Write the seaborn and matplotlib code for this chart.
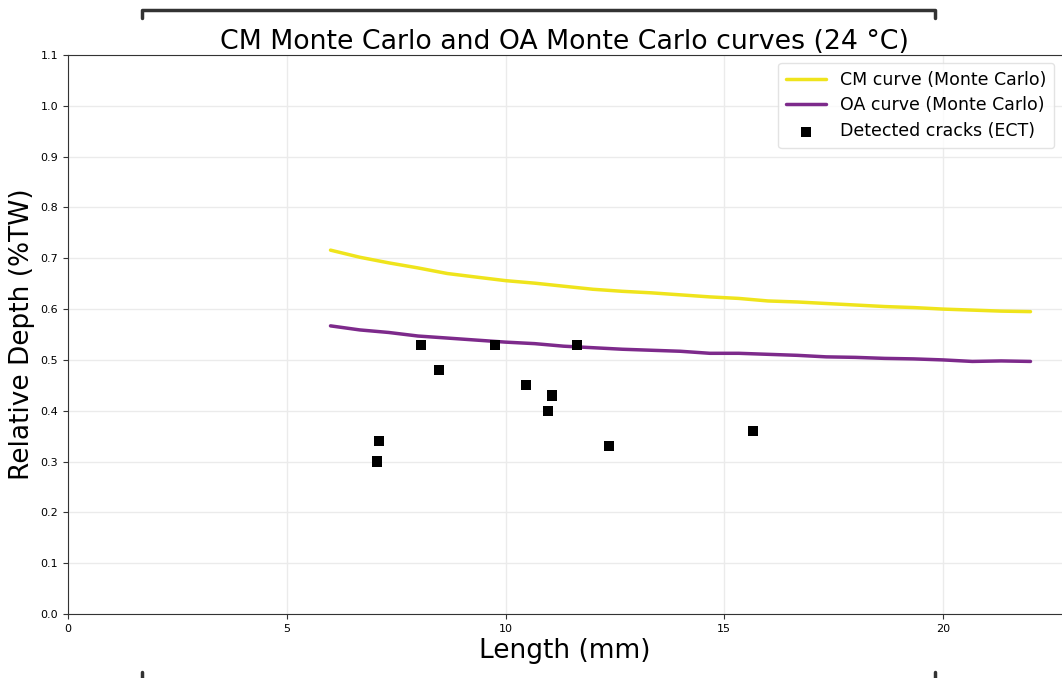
import matplotlib
matplotlib.use("Agg")
import matplotlib.pyplot as plt
import seaborn as sns
import pandas as pd
from matplotlib.lines import Line2D

# Monte Carlo curves (length in mm, relative depth)
length_mm = [6.0, 6.67, 7.33, 8.0, 8.67, 9.33, 10.0, 10.67, 11.33, 12.0, 12.67, 13.33,
             14.0, 14.67, 15.33, 16.0, 16.67, 17.33, 18.0, 18.67, 19.33, 20.0, 20.67,
             21.33, 22.0]
cm_depth = [0.716, 0.702, 0.691, 0.681, 0.670, 0.663, 0.656, 0.651, 0.645, 0.639, 0.635,
            0.632, 0.628, 0.624, 0.621, 0.616, 0.614, 0.611, 0.608, 0.605, 0.603, 0.600,
            0.598, 0.596, 0.595]
oa_depth = [0.567, 0.559, 0.554, 0.547, 0.543, 0.539, 0.535, 0.532, 0.527, 0.524, 0.521,
            0.519, 0.517, 0.513, 0.513, 0.511, 0.509, 0.506, 0.505, 0.503, 0.502, 0.500,
            0.497, 0.498, 0.497]

# ECT detected cracks
crack_length = [7.06, 7.11, 8.07, 8.48, 9.76, 10.47, 11.06, 10.97, 11.63, 12.37, 15.66]
crack_depth = [0.30, 0.34, 0.53, 0.48, 0.53, 0.45, 0.43, 0.40, 0.53, 0.33, 0.36]

curves = pd.DataFrame({"length": length_mm, "cm": cm_depth, "oa": oa_depth})
cracks = pd.DataFrame({"length": crack_length, "depth": crack_depth})

sns.set_style("ticks")
plt.rcParams["font.family"] = ["DejaVu Sans"]
plt.rcParams.update({"text.color": "black", "axes.labelcolor": "black",
                     "xtick.color": "#333333", "ytick.color": "#333333",
                     "xtick.labelcolor": "black", "ytick.labelcolor": "black"})

fig = plt.figure(figsize=(10.62, 6.78), dpi=100)
ax = fig.add_axes([68 / 1062, 64 / 678, 994 / 1062, 559 / 678])

sns.lineplot(data=curves, x="length", y="cm", ax=ax, color="#efe41c", lw=2.5,
             label="CM curve (Monte Carlo)")
sns.lineplot(data=curves, x="length", y="oa", ax=ax, color="#7d2a8b", lw=2.5,
             label="OA curve (Monte Carlo)")
sns.scatterplot(data=cracks, x="length", y="depth", ax=ax, color="black", marker="s",
                s=55, edgecolor="none", label="Detected cracks (ECT)", zorder=5)

ax.set_xlim(0, 22.72)
ax.set_ylim(0, 1.1)
ax.set_xticks([0, 5, 10, 15, 20])
ax.set_yticks([i / 10 for i in range(12)])
ax.tick_params(labelsize=8, length=3.5)
ax.grid(True, color="#ebebeb", lw=1)
ax.set_axisbelow(True)
for s in ax.spines.values():
    s.set_color("#333333")
ax.spines["right"].set_visible(False)

ax.set_title("CM Monte Carlo and OA Monte Carlo curves (24 °C)", fontsize=19.3, pad=3)
ax.set_xlabel("Length (mm)", fontsize=19, labelpad=3)
ax.set_ylabel("Relative Depth (%TW)", fontsize=19, labelpad=4)

leg = ax.legend(loc="upper right", fontsize=12.5, frameon=True, borderaxespad=0.45,
                handlelength=2.3, labelspacing=0.45, borderpad=0.45)
leg.get_frame().set_edgecolor("#dddddd")

# bracket lines around the figure (partly cropped)
bc = "#333333"
x0, x1 = 142 / 1062, 935 / 1062
ytop, ytick = 1 - 10 / 678, 1 - 18 / 678
fig.add_artist(Line2D([x0, x0, x1, x1], [ytick, ytop, ytop, ytick], color=bc, lw=2.5))
fig.add_artist(Line2D([x0, x0], [0, 6 / 678], color=bc, lw=2.5))
fig.add_artist(Line2D([x1, x1], [0, 6 / 678], color=bc, lw=2.5))

fig.savefig("out.png", dpi=100)
